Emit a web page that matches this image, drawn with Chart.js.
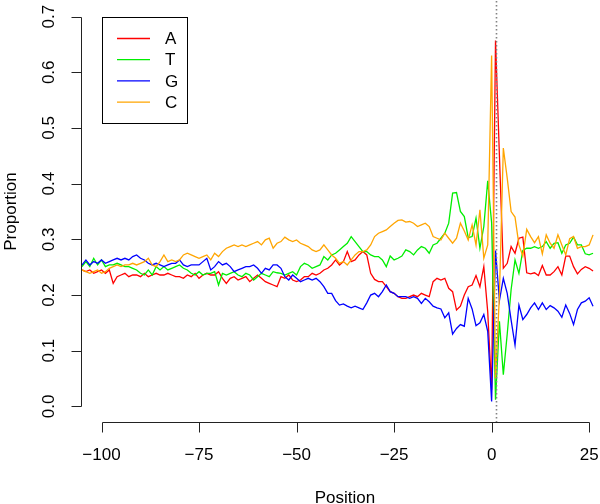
<!DOCTYPE html>
<html>
<head>
<meta charset="utf-8">
<script src="https://cdn.jsdelivr.net/npm/chart.js@4.4.1/dist/chart.umd.min.js"></script>
<style>
    html, body { margin: 0; padding: 0; background: #fff; }
    #chart { display: block; }
</style>
</head>
<body>
<canvas id="chart" width="600" height="504"></canvas>
<script>
// nucleotide proportions around the start codon, one value per position
const POSITIONS = [
    -105, -104, -103, -102, -101, -100, -99, -98, -97, -96,
    -95, -94, -93, -92, -91, -90, -89, -88, -87, -86,
    -85, -84, -83, -82, -81, -80, -79, -78, -77, -76,
    -75, -74, -73, -72, -71, -70, -69, -68, -67, -66,
    -65, -64, -63, -62, -61, -60, -59, -58, -57, -56,
    -55, -54, -53, -52, -51, -50, -49, -48, -47, -46,
    -45, -44, -43, -42, -41, -40, -39, -38, -37, -36,
    -35, -34, -33, -32, -31, -30, -29, -28, -27, -26,
    -25, -24, -23, -22, -21, -20, -19, -18, -17, -16,
    -15, -14, -13, -12, -11, -10, -9, -8, -7, -6,
    -5, -4, -3, -2, -1, 0, 1, 2, 3, 4,
    5, 6, 7, 8, 9, 10, 11, 12, 13, 14,
    15, 16, 17, 18, 19, 20, 21, 22, 23, 24,
    25, 26,
];

const A_VALUES = [
    0.245, 0.242, 0.245, 0.239, 0.242, 0.245, 0.239, 0.245, 0.221, 0.233, 0.236, 0.239, 0.233, 0.236, 0.236, 0.233, 0.239, 0.233, 0.236, 0.239, 0.236, 0.236, 0.239, 0.236, 0.233,
    0.233, 0.230, 0.236, 0.233, 0.239, 0.230, 0.236, 0.239, 0.236, 0.236, 0.242, 0.230, 0.221, 0.230, 0.233, 0.227, 0.230, 0.233, 0.224, 0.230, 0.236, 0.230, 0.224, 0.221, 0.218,
    0.215, 0.233, 0.230, 0.236, 0.227, 0.224, 0.227, 0.233, 0.233, 0.239, 0.236, 0.239, 0.245, 0.248, 0.254, 0.263, 0.254, 0.260, 0.278, 0.260, 0.263, 0.272, 0.278, 0.272, 0.239,
    0.228, 0.224, 0.224, 0.215, 0.206, 0.203, 0.197, 0.194, 0.194, 0.197, 0.200, 0.197, 0.203, 0.200, 0.197, 0.224, 0.230, 0.227, 0.230, 0.212, 0.206, 0.173, 0.180, 0.200, 0.215,
    0.218, 0.235, 0.215, 0.251, 0.170, 0.030, 0.657, 0.450, 0.248, 0.257,
    0.287, 0.275, 0.302, 0.304, 0.240, 0.238, 0.240, 0.235, 0.253, 0.236,
    0.236, 0.242, 0.251, 0.236, 0.270, 0.270, 0.251, 0.238, 0.246, 0.251,
    0.248, 0.243,
];

const T_VALUES = [
    0.251, 0.260, 0.251, 0.266, 0.254, 0.263, 0.251, 0.254, 0.254, 0.257, 0.254, 0.251, 0.251, 0.248, 0.245, 0.239, 0.236, 0.245, 0.236, 0.251, 0.245, 0.251, 0.245, 0.248, 0.251,
    0.254, 0.248, 0.245, 0.239, 0.236, 0.242, 0.236, 0.239, 0.239, 0.242, 0.218, 0.239, 0.236, 0.239, 0.242, 0.236, 0.233, 0.239, 0.236, 0.227, 0.233, 0.239, 0.236, 0.233, 0.242,
    0.240, 0.239, 0.236, 0.239, 0.242, 0.236, 0.251, 0.257, 0.254, 0.248, 0.251, 0.254, 0.269, 0.263, 0.272, 0.275, 0.281, 0.287, 0.293, 0.305, 0.296, 0.287, 0.278, 0.278, 0.272,
    0.269, 0.269, 0.263, 0.251, 0.270, 0.263, 0.266, 0.270, 0.281, 0.278, 0.272, 0.281, 0.287, 0.284, 0.275, 0.290, 0.293, 0.302, 0.311, 0.329, 0.383, 0.384, 0.350, 0.341, 0.303,
    0.305, 0.338, 0.284, 0.323, 0.405, 0.330, 0.012, 0.153, 0.057, 0.130,
    0.210, 0.263, 0.239, 0.280, 0.284, 0.284, 0.287, 0.284, 0.287, 0.296,
    0.284, 0.293, 0.294, 0.275, 0.290, 0.293, 0.304, 0.290, 0.290, 0.274,
    0.272, 0.275,
];

const G_VALUES = [
    0.254, 0.263, 0.254, 0.260, 0.257, 0.263, 0.257, 0.260, 0.263, 0.266, 0.263, 0.266, 0.263, 0.269, 0.272, 0.266, 0.263, 0.257, 0.254, 0.257, 0.254, 0.251, 0.254, 0.257, 0.257,
    0.263, 0.254, 0.251, 0.254, 0.254, 0.254, 0.260, 0.266, 0.245, 0.251, 0.260, 0.254, 0.257, 0.251, 0.242, 0.245, 0.248, 0.251, 0.251, 0.254, 0.248, 0.239, 0.248, 0.245, 0.254,
    0.254, 0.248, 0.233, 0.227, 0.236, 0.230, 0.224, 0.227, 0.230, 0.227, 0.230, 0.224, 0.215, 0.203, 0.203, 0.190, 0.182, 0.184, 0.180, 0.177, 0.180, 0.177, 0.174, 0.186, 0.200,
    0.203, 0.197, 0.206, 0.218, 0.206, 0.203, 0.197, 0.197, 0.197, 0.194, 0.197, 0.194, 0.185, 0.194, 0.188, 0.180, 0.177, 0.175, 0.159, 0.168, 0.130, 0.140, 0.147, 0.144, 0.194,
    0.175, 0.145, 0.150, 0.165, 0.135, 0.009, 0.280, 0.190, 0.230, 0.203,
    0.155, 0.110, 0.182, 0.156, 0.165, 0.177, 0.186, 0.174, 0.186, 0.174,
    0.181, 0.177, 0.171, 0.160, 0.182, 0.167, 0.147, 0.174, 0.186, 0.189,
    0.195, 0.180,
];

const C_VALUES = [
    0.245, 0.242, 0.239, 0.242, 0.245, 0.239, 0.242, 0.248, 0.251, 0.254, 0.251, 0.254, 0.254, 0.257, 0.254, 0.257, 0.260, 0.266, 0.254, 0.251, 0.260, 0.272, 0.260, 0.263, 0.260,
    0.263, 0.272, 0.275, 0.272, 0.269, 0.266, 0.269, 0.272, 0.263, 0.275, 0.269, 0.278, 0.284, 0.287, 0.290, 0.287, 0.290, 0.287, 0.290, 0.293, 0.296, 0.290, 0.299, 0.302, 0.284,
    0.293, 0.296, 0.304, 0.299, 0.296, 0.299, 0.293, 0.290, 0.287, 0.281, 0.278, 0.281, 0.290, 0.281, 0.272, 0.266, 0.257, 0.260, 0.254, 0.263, 0.272, 0.278, 0.278, 0.281, 0.290,
    0.305, 0.311, 0.314, 0.317, 0.323, 0.329, 0.334, 0.335, 0.331, 0.332, 0.329, 0.323, 0.326, 0.329, 0.323, 0.305, 0.302, 0.299, 0.311, 0.302, 0.293, 0.302, 0.329, 0.315, 0.299,
    0.326, 0.290, 0.353, 0.266, 0.290, 0.630, 0.050, 0.200, 0.464, 0.410,
    0.350, 0.340, 0.290, 0.270, 0.318, 0.305, 0.294, 0.305, 0.274, 0.308,
    0.293, 0.284, 0.308, 0.290, 0.272, 0.301, 0.305, 0.284, 0.287, 0.287,
    0.290, 0.308,
];

const SERIES_NAMES = ['A', 'T', 'G', 'C'];
const SERIES_COLORS = ['#ff0000', '#00ee00', '#0000ff', '#ffa500'];
const X_TICKS = [-100, -75, -50, -25, 0, 25];
const Y_TICKS = [0, 0.1, 0.2, 0.3, 0.4, 0.5, 0.6, 0.7];
const MARKER_POSITION = 1;

(function () {
    const FONT = '17px "Liberation Sans", Arial, Helvetica, sans-serif';

    function toPoints(values) {
        return values.map(function (v, i) {
            return { x: POSITIONS[i], y: v };
        });
    }

    function fmtX(v) {
        return v < 0 ? '\u2212' + Math.abs(v) : String(v);
    }

    // R style detached axes, drawn from the real scales
    const rAxes = {
        id: 'rAxes',
        afterDatasetsDraw: function (chart) {
            const ctx = chart.ctx;
            const area = chart.chartArea;
            const px = Math.round(chart.scales.x.getPixelForValue(MARKER_POSITION)) + 0.5;
            ctx.save();
            ctx.strokeStyle = 'rgb(130, 130, 130)';
            ctx.lineWidth = 1.6;
            ctx.setLineDash([1.5, 2.5]);
            ctx.beginPath();
            ctx.moveTo(px, area.top);
            ctx.lineTo(px, area.bottom);
            ctx.stroke();
            ctx.restore();
        },
        afterDraw: function (chart) {
            const ctx = chart.ctx;
            const xs = chart.scales.x;
            const ys = chart.scales.y;
            const area = chart.chartArea;
            ctx.save();
            ctx.strokeStyle = '#222';
            ctx.fillStyle = '#000';
            ctx.lineWidth = 1;
            ctx.font = FONT;

            // y axis
            const ax = area.left - 0.5;
            ctx.beginPath();
            ctx.moveTo(ax, Math.round(ys.getPixelForValue(Y_TICKS[0])) + 0.5);
            ctx.lineTo(ax, Math.round(ys.getPixelForValue(Y_TICKS[Y_TICKS.length - 1])) + 0.5);
            Y_TICKS.forEach(function (t) {
                const y = Math.round(ys.getPixelForValue(t)) + 0.5;
                ctx.moveTo(ax, y);
                ctx.lineTo(ax - 10, y);
            });
            ctx.stroke();
            ctx.textAlign = 'center';
            ctx.textBaseline = 'middle';
            Y_TICKS.forEach(function (t) {
                ctx.save();
                ctx.translate(49, ys.getPixelForValue(t));
                ctx.rotate(-Math.PI / 2);
                ctx.fillText(t.toFixed(1), 0, 0);
                ctx.restore();
            });

            // x axis
            const ay = area.bottom + 0.5;
            ctx.beginPath();
            ctx.moveTo(Math.round(xs.getPixelForValue(X_TICKS[0])) + 0.5, ay);
            ctx.lineTo(Math.round(xs.getPixelForValue(X_TICKS[X_TICKS.length - 1])) + 0.5, ay);
            X_TICKS.forEach(function (t) {
                const x = Math.round(xs.getPixelForValue(t)) + 0.5;
                ctx.moveTo(x, ay);
                ctx.lineTo(x, ay + 10);
            });
            ctx.stroke();
            X_TICKS.forEach(function (t) {
                ctx.fillText(fmtX(t), xs.getPixelForValue(t), 455);
            });

            // titles
            ctx.textBaseline = 'alphabetic';
            ctx.fillText('Position', 345, 503);
            ctx.save();
            ctx.translate(16, (area.top + area.bottom) / 2);
            ctx.rotate(-Math.PI / 2);
            ctx.fillText('Proportion', 0, 0);
            ctx.restore();

            // legend box
            ctx.fillStyle = '#fff';
            ctx.fillRect(102, 17, 85, 106);
            ctx.strokeStyle = '#000';
            ctx.strokeRect(102.5, 17.5, 85, 106);
            ctx.textAlign = 'left';
            ctx.textBaseline = 'middle';
            chart.data.datasets.forEach(function (ds, i) {
                const y = 38.5 + i * 21.2;
                ctx.strokeStyle = ds.borderColor;
                ctx.lineWidth = 1.3;
                ctx.beginPath();
                ctx.moveTo(117, y);
                ctx.lineTo(150, y);
                ctx.stroke();
                ctx.fillStyle = '#000';
                ctx.fillText(ds.label, 165, y + 1);
            });
            ctx.restore();
        },
    };

    const seriesValues = [A_VALUES, T_VALUES, G_VALUES, C_VALUES];
    const datasets = SERIES_NAMES.map(function (name, i) {
        return {
            label: name,
            data: toPoints(seriesValues[i]),
            borderColor: SERIES_COLORS[i],
            borderWidth: 1.3,
            pointRadius: 0,
            tension: 0,
            fill: false,
            order: SERIES_NAMES.length - 1 - i,
        };
    });

    new Chart(document.getElementById('chart').getContext('2d'), {
        type: 'line',
        data: { datasets: datasets },
        options: {
            responsive: false,
            animation: false,
            devicePixelRatio: 1,
            layout: { padding: { left: 82, right: 5, top: 1, bottom: 82 } },
            plugins: {
                legend: { display: false },
                tooltip: { enabled: false },
            },
            scales: {
                x: { type: 'linear', min: -105, max: 26.5, display: false },
                y: { min: -0.028, max: 0.728, display: false },
            },
        },
        plugins: [rAxes],
    });
})();
</script>
</body>
</html>
